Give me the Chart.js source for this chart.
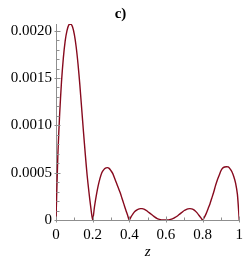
<!DOCTYPE html>
<html>
<head>
<meta charset="utf-8">
<script src="https://cdn.jsdelivr.net/npm/chart.js@4"></script>
<style>
  html, body { margin: 0; padding: 0; background: #fff; }
  #wrap { width: 249px; height: 264px; }
</style>
</head>
<body>
<div id="wrap"><canvas id="plot"></canvas></div>
<script>
// values, z step 0.01
var zValues = [];
for (var i = 0; i <= 100; i++) zValues.push(i / 100);

var fValues = [
  0, 0.00068, 0.00112, 0.00146, 0.00171, 0.00189, 0.00200, 0.00206, 0.00207, 0.00204,
  0.00196, 0.00183, 0.00165, 0.00143, 0.00118, 0.00093, 0.00069, 0.00047, 0.00029, 0.00013,
  0, 0.00014, 0.00026, 0.00036, 0.00044, 0.00050, 0.00053, 0.000548, 0.000553, 0.000545,
  0.00052, 0.00049, 0.00044, 0.00039, 0.00034, 0.00029, 0.00023, 0.00017, 0.00011, 0.000055,
  0, 0.000035, 0.000065, 0.00009, 0.000105, 0.000115, 0.00012, 0.00012, 0.000115, 0.000105,
  0.00009, 0.000075, 0.00006, 0.000045, 0.00003, 0.000018, 0.000009, 0.000004, 0.000001, 0,
  0, 0.000001, 0.000004, 0.000009, 0.000017, 0.000028, 0.00004, 0.000055, 0.00007, 0.000085,
  0.0001, 0.00011, 0.000117, 0.00012, 0.000118, 0.00011, 0.000095, 0.000075, 0.00005, 0.000025,
  0, 0.00003, 0.00007, 0.00012, 0.00017, 0.00023, 0.00029, 0.00036, 0.00042, 0.00047,
  0.00052, 0.00055, 0.00056, 0.000563, 0.00056, 0.00054, 0.00051, 0.00046, 0.00039, 0.00027,
  0
];

var xTicks = [0, 0.2, 0.4, 0.6, 0.8, 1];
var yTicks = [0, 0.0005, 0.001, 0.0015, 0.002];

var axisColor = '#8f8f8f';
var lineColor = '#870a1e';
var fontName = "'Liberation Serif', 'Times New Roman', serif";

var points = zValues.map(function (z, i) { return { x: z, y: fValues[i] }; });

// little tick marks, majors and minors, drawn with the scales
var tickMarks = {
  id: 'tickMarks',
  afterDraw: function (chart) {
    var ctx = chart.ctx, x = chart.scales.x, y = chart.scales.y;
    var x0 = Math.round(x.getPixelForValue(0)) + 0.5;
    var y0 = Math.round(y.getPixelForValue(0)) + 0.5;
    ctx.save();
    ctx.strokeStyle = axisColor;
    ctx.lineWidth = 1;
    ctx.beginPath();
    for (var k = 0; k <= 10; k++) {
      var px = Math.round(x.getPixelForValue(k / 10)) + 0.5;
      var len = k % 2 === 0 ? 4 : 3;
      ctx.moveTo(px, y0 + (k % 2 === 0 ? 2 : 0));
      ctx.lineTo(px, y0 - len);
    }
    for (var j = 0; j <= 20; j++) {
      var py = Math.round(y.getPixelForValue(j * 0.0001)) + 0.5;
      var ln = j % 5 === 0 ? 4 : 3;
      ctx.moveTo(x0 - (j % 5 === 0 ? 2 : 0), py);
      ctx.lineTo(x0 + ln, py);
    }
    ctx.stroke();
    ctx.restore();
  }
};

new Chart(document.getElementById('plot'), {
  type: 'line',
  data: {
    datasets: [{
      data: points,
      borderColor: lineColor,
      borderWidth: 1.4,
      pointRadius: 0,
      tension: 0.25,
      fill: false
    }]
  },
  plugins: [tickMarks],
  options: {
    responsive: true,
    maintainAspectRatio: false,
    animation: false,
    layout: { padding: { left: 0, right: 8, top: 0, bottom: 0 } },
    plugins: {
      legend: { display: false },
      tooltip: { enabled: false },
      title: {
        display: true,
        text: 'c)',
        color: '#000',
        font: { family: fontName, size: 15, weight: 'bold' },
        padding: { top: 5, bottom: 1 }
      }
    },
    scales: {
      x: {
        type: 'linear',
        min: 0,
        max: 1,
        afterBuildTicks: function (s) { s.ticks = xTicks.map(function (v) { return { value: v }; }); },
        afterFit: function (s) { s.height = 44; },
        ticks: {
          color: '#000',
          font: { family: fontName, size: 15 },
          padding: 6,
          maxRotation: 0,
          callback: function (v) { return v === 0 ? '0' : v === 1 ? '1' : v.toFixed(1); }
        },
        grid: { display: false, drawTicks: false },
        border: { display: true, color: axisColor, width: 1 },
        title: {
          display: true,
          text: 'z',
          color: '#000',
          font: { family: fontName, size: 15, style: 'italic' },
          padding: { top: 0, bottom: 3 }
        }
      },
      y: {
        type: 'linear',
        min: 0,
        max: 0.00207,
        afterBuildTicks: function (s) { s.ticks = yTicks.map(function (v) { return { value: v }; }); },
        afterFit: function (s) { s.width = 56; },
        ticks: {
          color: '#000',
          font: { family: fontName, size: 15 },
          padding: 4,
          callback: function (v) { return v === 0 ? '0' : v.toFixed(4); }
        },
        grid: { display: false, drawTicks: false },
        border: { display: true, color: axisColor, width: 1 }
      }
    }
  }
});
</script>
</body>
</html>
